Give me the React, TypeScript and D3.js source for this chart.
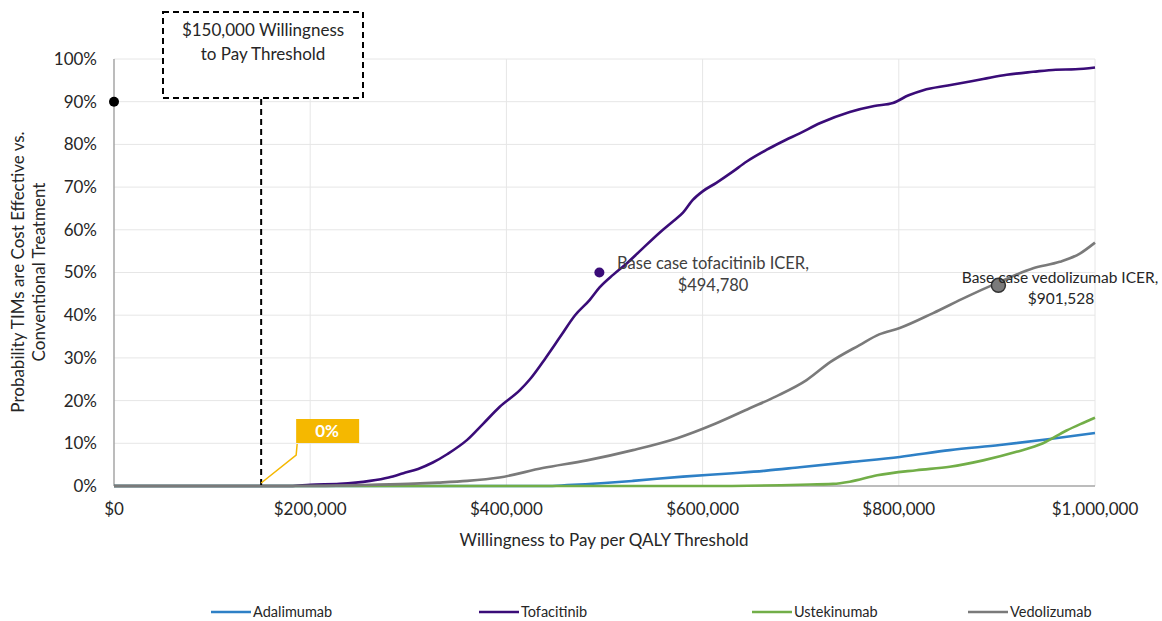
import React from "react";
import * as d3 from "d3";

// Willingness-to-pay thresholds (thousands $) and probabilities (%) per series
const adalimumabWtp = [0, 440, 462, 500, 529, 580, 631, 665, 699, 750, 801, 852, 903, 954, 1000];
const adalimumabProb = [0, 0, 0.2, 0.7, 1.2, 2.2, 3.0, 3.6, 4.4, 5.6, 6.8, 8.4, 9.6, 11.0, 12.4];

const tofacitinibWtp = [0, 180, 200, 230, 261, 280, 295, 310, 325, 340, 360, 376, 393, 414, 424, 440, 455, 470, 485, 495, 509, 522, 536, 557, 570, 580, 590, 600, 614, 630, 645, 665, 680, 699, 720, 750, 775, 794, 810, 825, 850, 886, 910, 937, 960, 980, 1000];
const tofacitinibProb = [0, 0, 0.3, 0.5, 1.2, 2.0, 3.0, 4.0, 5.5, 7.5, 10.8, 14.5, 18.5, 22.5, 25, 30, 35, 40, 43.6, 46.5, 49.5, 52, 55, 59.5, 62, 64, 67, 69, 71, 73.5, 76, 78.7, 80.5, 82.6, 85, 87.6, 89, 89.7, 91.5, 92.7, 93.8, 95.3, 96.3, 97, 97.5, 97.6, 98];

const ustekinumabWtp = [0, 600, 700, 733, 750, 778, 818, 852, 886, 920, 947, 971, 985, 1000];
const ustekinumabProb = [0, 0, 0.3, 0.5, 1.0, 2.5, 3.7, 4.5, 6.0, 8.0, 10.0, 13.0, 14.5, 16.0];

const vedolizumabWtp = [0, 200, 250, 300, 330, 360, 393, 437, 482, 529, 574, 614, 648, 675, 706, 730, 760, 780, 801, 835, 869, 900, 937, 964, 985, 1000];
const vedolizumabProb = [0, 0, 0.2, 0.5, 0.8, 1.2, 2.0, 4.2, 6.0, 8.4, 11.2, 14.7, 18.2, 21, 24.8, 29, 33, 35.5, 37, 40.5, 44.3, 47.5, 51, 52.5, 54.5, 57];

const seriesNames = ["Adalimumab", "Tofacitinib", "Ustekinumab", "Vedolizumab"];
const seriesColors = ["#2e80c6", "#3a0c78", "#72ae48", "#7a7a7a"];

const xTicks = [0, 200000, 400000, 600000, 800000, 1000000];
const yTicks = [0, 10, 20, 30, 40, 50, 60, 70, 80, 90, 100];

const thresholdWtp = 150000;
const tofaIcer = 494780;
const tofaIcerProb = 50;
const vedoIcer = 901528;
const vedoIcerProb = 47;
const blackDotProb = 90;

const FONT = "Lato, 'Open Sans', sans-serif";
const FS = 17;

export default function App() {
  const x = d3.scaleLinear().domain([0, 1000000]).range([114, 1095]);
  const y = d3.scaleLinear().domain([0, 100]).range([486, 59]);

  const allSeries = [
    { w: adalimumabWtp, p: adalimumabProb },
    { w: tofacitinibWtp, p: tofacitinibProb },
    { w: ustekinumabWtp, p: ustekinumabProb },
    { w: vedolizumabWtp, p: vedolizumabProb },
  ];

  const line = d3
    .line<[number, number]>()
    .x((d) => x(d[0] * 1000))
    .y((d) => y(d[1]))
    .curve(d3.curveMonotoneX);

  const fmt = (v: number) => "$" + d3.format(",")(v);

  const legendX = [211, 479, 752, 968];

  const thX = x(thresholdWtp);

  return (
    <svg
      width={1162}
      height={621}
      style={{ position: "absolute", left: 0, top: 0, background: "#fff" }}
      fontFamily={FONT}
    >
      <rect x={0} y={0} width={1162} height={621} fill="#fff" />
      {/* gridlines */}
      {yTicks.slice(1).map((t) => (
        <line key={"gy" + t} x1={x(0)} x2={x(1000000)} y1={y(t)} y2={y(t)} stroke="#e6e6e6" strokeWidth={1} />
      ))}
      {xTicks.slice(1).map((t) => (
        <line key={"gx" + t} x1={x(t)} x2={x(t)} y1={y(0)} y2={y(100)} stroke="#e6e6e6" strokeWidth={1} />
      ))}
      {/* axes */}
      <line x1={x(0)} x2={x(0)} y1={y(100)} y2={y(0)} stroke="#a6a6a6" strokeWidth={1.5} />
      <line x1={x(0)} x2={x(1000000)} y1={y(0)} y2={y(0)} stroke="#a6a6a6" strokeWidth={1.5} />

      {/* y tick labels */}
      {yTicks.map((t) => (
        <text key={"yl" + t} x={97} y={y(t)} dy="0.35em" textAnchor="end" fontSize={FS} fill="#262626">
          {t + "%"}
        </text>
      ))}
      {/* x tick labels */}
      {xTicks.map((t) => (
        <text key={"xl" + t} x={x(t)} y={515} textAnchor="middle" fontSize={FS} fill="#262626">
          {fmt(t)}
        </text>
      ))}

      {/* axis titles */}
      <text x={604} y={546} textAnchor="middle" fontSize={FS} fill="#262626">
        Willingness to Pay per QALY Threshold
      </text>
      <g transform="translate(24,272) rotate(-90)">
        <text x={0} y={0} textAnchor="middle" fontSize={FS} fill="#262626">
          Probability TIMs are Cost Effective vs.
        </text>
        <text x={0} y={21} textAnchor="middle" fontSize={FS} fill="#262626">
          Conventional Treatment
        </text>
      </g>

      {/* series */}
      {allSeries.map((s, i) => (
        <path
          key={seriesNames[i]}
          d={line(s.w.map((w, j) => [w, s.p[j]] as [number, number])) || ""}
          fill="none"
          stroke={seriesColors[i]}
          strokeWidth={2.6}
          strokeLinejoin="round"
        />
      ))}

      {/* threshold dashed line and box */}
      <line x1={thX} x2={thX} y1={99} y2={y(0)} stroke="#000" strokeWidth={2} strokeDasharray="6,4" />
      <rect x={163} y={12} width={200} height={86} fill="#fff" stroke="#000" strokeWidth={2} strokeDasharray="6,4" />
      <text x={263} y={36} textAnchor="middle" fontSize={FS} fill="#262626">
        $150,000 Willingness
      </text>
      <text x={263} y={60} textAnchor="middle" fontSize={FS} fill="#262626">
        to Pay Threshold
      </text>

      {/* black dot at $0, 90% */}
      <circle cx={x(0)} cy={y(blackDotProb)} r={5} fill="#000" />

      {/* 0% callout */}
      <polyline
        points={`${thX},${y(0) - 3} ${thX + 35},${y(0) - 31} ${thX + 36},${y(0) - 42}`}
        fill="none"
        stroke="#f5b800"
        strokeWidth={1.5}
      />
      <rect x={thX + 35} y={419} width={63} height={24} fill="#f5b800" />
      <text x={thX + 66} y={431} dy="0.35em" textAnchor="middle" fontSize={FS} fontWeight={700} fill="#fff">
        0%
      </text>

      {/* tofacitinib ICER */}
      <circle cx={x(tofaIcer)} cy={y(tofaIcerProb)} r={5} fill="#3a0c78" />
      <text x={713} y={269} textAnchor="middle" fontSize={16.5} fill="#404040">
        Base case tofacitinib ICER,
      </text>
      <text x={713} y={291} textAnchor="middle" fontSize={16.5} fill="#404040">
        {fmt(tofaIcer)}
      </text>

      {/* vedolizumab ICER */}
      <circle cx={x(vedoIcer)} cy={y(vedoIcerProb)} r={7} fill="#7a7a7a" stroke="#333" strokeWidth={1.5} />
      <text x={1060} y={283} textAnchor="middle" fontSize={15.5} fill="#262626">
        Base case vedolizumab ICER,
      </text>
      <text x={1061} y={304} textAnchor="middle" fontSize={15.5} fill="#262626">
        {fmt(vedoIcer)}
      </text>

      {/* legend */}
      {seriesNames.map((n, i) => (
        <g key={"lg" + n}>
          <line x1={legendX[i]} x2={legendX[i] + 40} y1={612} y2={612} stroke={seriesColors[i]} strokeWidth={2.6} />
          <text x={legendX[i] + 42} y={612} dy="0.35em" fontSize={14.5} fill="#262626">
            {n}
          </text>
        </g>
      ))}
    </svg>
  );
}
